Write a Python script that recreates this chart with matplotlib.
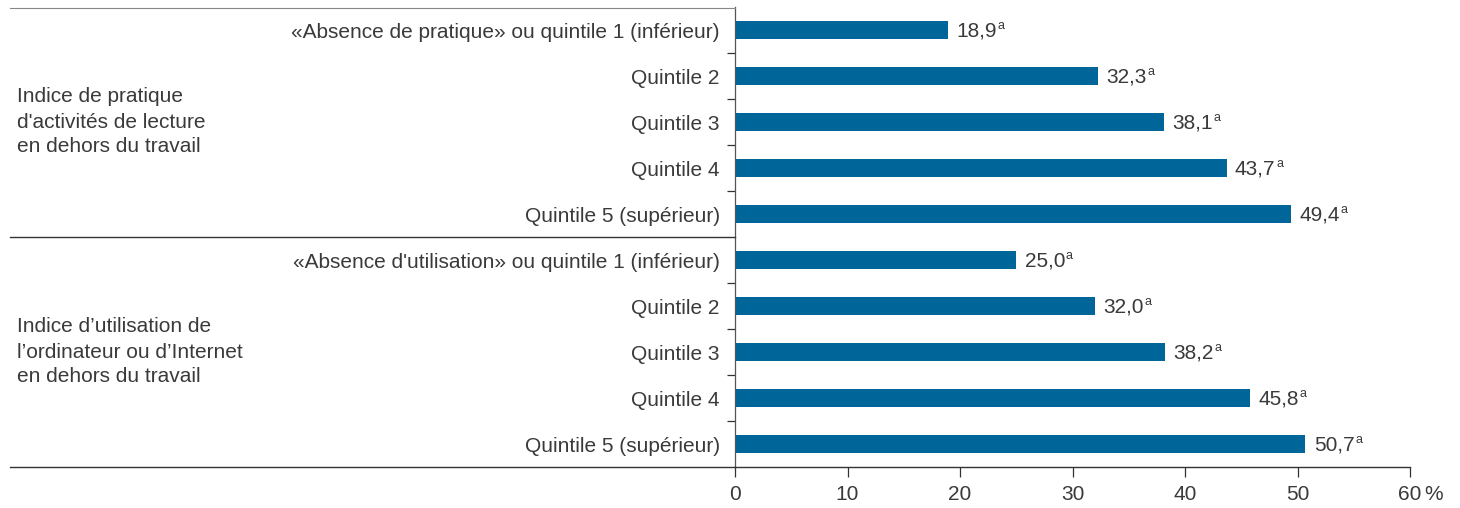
import matplotlib
matplotlib.use('Agg')
import matplotlib.pyplot as plt
from matplotlib.lines import Line2D

plt.rcParams['font.family'] = ['Liberation Sans', 'DejaVu Sans']

# data
group_labels = ["Indice de pratique\nd'activités de lecture\nen dehors du travail",
                "Indice d’utilisation de\nl’ordinateur ou d’Internet\nen dehors du travail"]
categories = ["«Absence de pratique» ou quintile 1 (inférieur)",
              "Quintile 2", "Quintile 3", "Quintile 4", "Quintile 5 (supérieur)",
              "«Absence d'utilisation» ou quintile 1 (inférieur)",
              "Quintile 2", "Quintile 3", "Quintile 4", "Quintile 5 (supérieur)"]
values = [18.9, 32.3, 38.1, 43.7, 49.4, 25.0, 32.0, 38.2, 45.8, 50.7]
value_labels = ["18,9", "32,3", "38,1", "43,7", "49,4",
                "25,0", "32,0", "38,2", "45,8", "50,7"]
xticks = [0, 10, 20, 30, 40, 50, 60]

bar_color = '#00669a'
txt = '#3a3a3a'
line = '#333333'
fs = 15

W, H = 1460, 508
fig = plt.figure(figsize=(W / 100, H / 100), dpi=100)
ax = fig.add_axes([735 / W, 1 - 467 / H, (1410 - 735) / W, 460 / H])

pos = list(range(len(values)))
ax.barh(pos, values, height=0.37, color=bar_color)
ax.set_ylim(9.5, -0.5)
ax.set_xlim(0, 60)

ax.set_yticks(pos)
ax.set_yticklabels(categories, fontsize=fs, color=txt)
ax.tick_params(axis='y', which='major', length=0, pad=11)
ax.set_yticks([0.5, 1.5, 2.5, 3.5, 5.5, 6.5, 7.5, 8.5], minor=True)
ax.tick_params(axis='y', which='minor', length=6, width=0.9, color=line, direction='out')

ax.set_xticks(xticks)
ax.set_xticklabels([str(t) for t in xticks], fontsize=fs, color=txt)
ax.tick_params(axis='x', length=7, width=0.9, color=line, pad=6)
ax.annotate('%', xy=(60, 0), xycoords=('data', 'axes fraction'),
            xytext=(10, -13), textcoords='offset points',
            fontsize=fs, color=txt, ha='left', va='top')

for s in ['top', 'right']:
    ax.spines[s].set_visible(False)
ax.spines['left'].set_color('#555555')
ax.spines['left'].set_linewidth(0.9)
ax.spines['bottom'].set_color(line)
ax.spines['bottom'].set_linewidth(1.0)

# value labels with superscript "a"
for i, (v, lab) in enumerate(zip(values, value_labels)):
    t = ax.annotate(lab, xy=(v, i), xytext=(6, -1), textcoords='offset points',
                    fontsize=fs, color=txt, ha='left', va='center')
    ax.annotate('a', xy=(1, 0.6), xycoords=t, xytext=(0.5, 0),
                textcoords='offset points', fontsize=9, color=txt,
                ha='left', va='baseline')

# group labels
ax.annotate(group_labels[0], xy=(0, 2), xycoords=('figure pixels', 'data'),
            xytext=(17, 0), textcoords='offset pixels',
            fontsize=fs, color=txt, ha='left', va='center', linespacing=1.4)
ax.annotate(group_labels[1], xy=(0, 7), xycoords=('figure pixels', 'data'),
            xytext=(17, 0), textcoords='offset pixels',
            fontsize=fs, color=txt, ha='left', va='center', linespacing=1.4)

# frame lines on the left part
fig.add_artist(Line2D([10 / W, 735 / W], [1 - 7.5 / H, 1 - 7.5 / H],
                      color='#888888', lw=0.8))
fig.add_artist(Line2D([10 / W, 735 / W], [1 - 237 / H, 1 - 237 / H],
                      color=line, lw=1.0))
fig.add_artist(Line2D([10 / W, 735 / W], [1 - 467 / H, 1 - 467 / H],
                      color=line, lw=1.0))

fig.savefig('out.png', dpi=100)
